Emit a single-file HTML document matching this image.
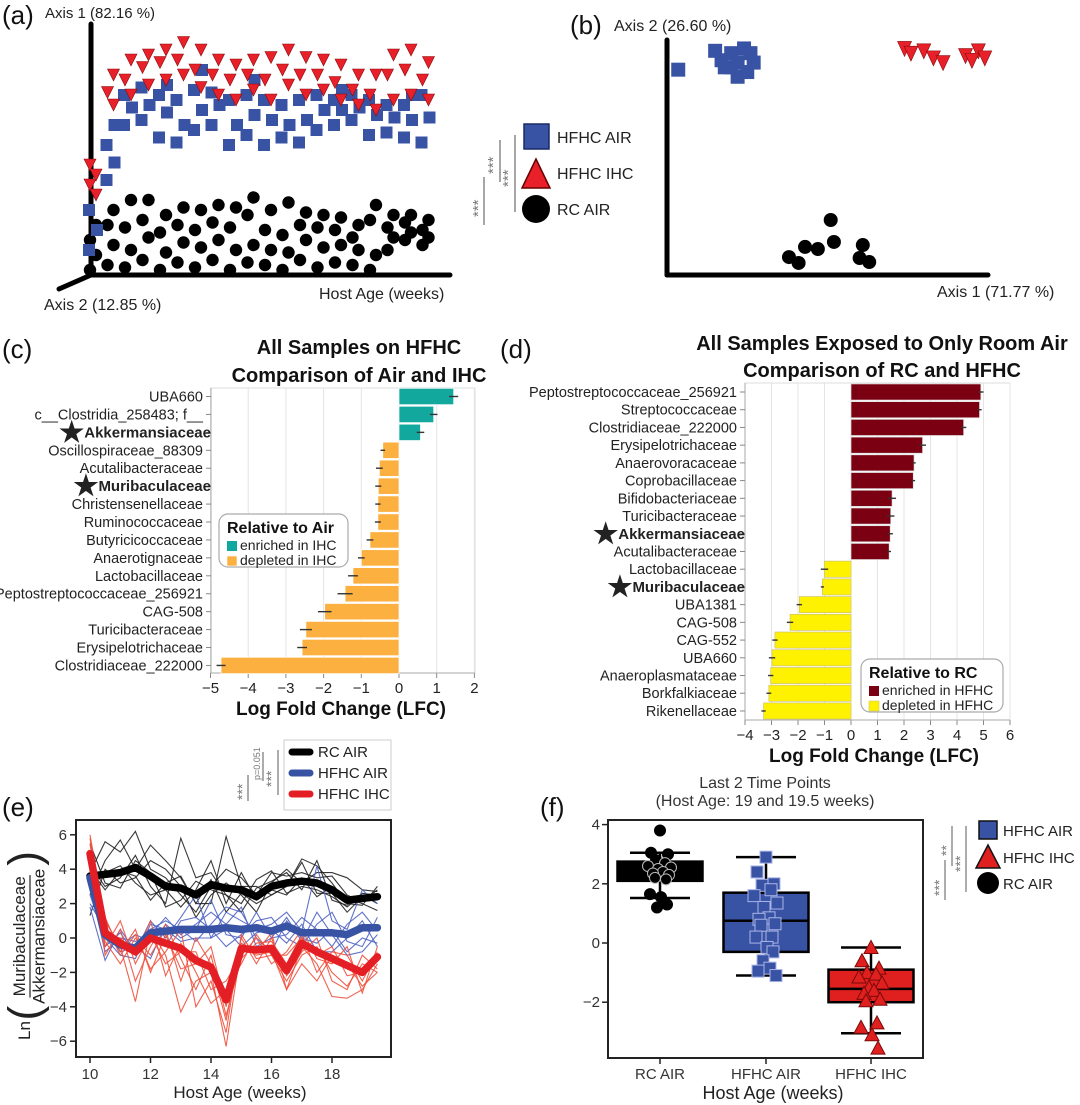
<!DOCTYPE html>
<html><head><meta charset="utf-8"><style>
html,body{margin:0;padding:0;background:#fff;}
svg{display:block;font-family:"Liberation Sans",Arial,sans-serif;}
</style></head><body>
<svg id="fig" xmlns="http://www.w3.org/2000/svg" width="1080" height="1105" viewBox="0 0 1080 1105">
<rect x="0" y="0" width="1080" height="1105" fill="#fff"/>
<g font-size="26" fill="#111">
<text x="2" y="24">(a)</text>
<text x="570" y="34">(b)</text>
<text x="2" y="358">(c)</text>
<text x="500" y="358">(d)</text>
<text x="2" y="816">(e)</text>
<text x="540" y="816">(f)</text>
</g>
<g stroke="#000" stroke-width="5" stroke-linecap="round">
<line x1="91" y1="24" x2="91" y2="275"/>
<line x1="91" y1="275" x2="450" y2="275"/>
<line x1="91" y1="275" x2="59" y2="289"/>
</g>
<text x="45" y="18" font-size="15" fill="#222">Axis 1 (82.16 %)</text>
<text x="319" y="299" font-size="16" fill="#222">Host Age (weeks)</text>
<text x="44" y="310" font-size="16" fill="#222">Axis 2 (12.85 %)</text>
<g id="pa"></g>
<g>
<rect x="524" y="124" width="25" height="25" fill="#3953a4" stroke="#1a2a66" stroke-width="1.5"/>
<polygon points="536,159 522,188 550,188" fill="#e8202a" stroke="#600" stroke-width="1.5"/>
<circle cx="536" cy="209" r="14" fill="#000"/>
<text x="557" y="143" font-size="16" fill="#222">HFHC AIR</text>
<text x="557" y="179" font-size="16" fill="#222">HFHC IHC</text>
<text x="557" y="215" font-size="16" fill="#222">RC AIR</text>
<g stroke="#888" stroke-width="1.5">
<line x1="484" y1="177" x2="484" y2="225"/><line x1="500" y1="140" x2="500" y2="182"/><line x1="515" y1="135" x2="515" y2="212"/>
</g>
<g font-size="15" fill="#777">
<text transform="translate(483,217) rotate(-90)">***</text>
<text transform="translate(498,174) rotate(-90)">***</text>
<text transform="translate(513,187) rotate(-90)">***</text>
</g>
</g>
<g stroke="#000" stroke-width="5" stroke-linecap="round">
<line x1="667" y1="40" x2="667" y2="275"/>
<line x1="667" y1="275" x2="988" y2="275"/>
</g>
<text x="614" y="31" font-size="16" fill="#222">Axis 2 (26.60 %)</text>
<text x="937" y="297" font-size="16" fill="#222">Axis 1 (71.77 %)</text>
<g id="pb"></g>
<g font-weight="bold" font-size="20" fill="#111" text-anchor="middle">
<text x="359" y="354">All Samples on HFHC</text>
<text x="359" y="382">Comparison of Air and IHC</text>
<text x="882" y="350">All Samples Exposed to Only Room Air</text>
<text x="882" y="377">Comparison of RC and HFHC</text>
</g>
<g id="pc"></g>
<g id="pd"></g>
<g id="pe"></g>
<g id="pf"></g>
</svg>
<script>
const agesA = [10,10.5,11,11.5,12,12.5,13,13.5,14,14.5,15,15.5,16,16.5,17,17.5,18,18.5,19,19.5];
const blackA = [[0.02,0.08,0.14,0.2],[0.04,0.12,0.2,0.26],[0.03,0.1,0.19,0.3],[0.06,0.15,0.22,0.3],[0.02,0.09,0.17,0.24],[0.05,0.13,0.2,0.27],[0.03,0.11,0.18,0.26],[0.06,0.14,0.21,0.28],[0.02,0.1,0.19,0.27],[0.05,0.12,0.24,0.31],[0.04,0.1,0.18,0.26],[0.02,0.09,0.16,0.29],[0.06,0.14,0.2,0.25],[0.03,0.11,0.19,0.24],[0.05,0.12,0.18,0.23],[0.04,0.1,0.15,0.2],[0.02,0.08,0.22,0.28],[0.1,0.15,0.19,0.24],[0.14,0.17,0.21,0.24],[0.12,0.15,0.18,0.22]];
const blueA = [[0.1,0.18,0.26],[0.38,0.45,0.52,0.6],[0.6,0.67,0.72],[0.62,0.68,0.75],[0.55,0.65,0.72,0.76],[0.53,0.6,0.7],[0.58,0.66,0.74,0.82],[0.6,0.68,0.73],[0.52,0.6,0.7],[0.56,0.64,0.72,0.78],[0.52,0.62,0.7],[0.55,0.6,0.68],[0.53,0.62,0.7],[0.58,0.66,0.72],[0.6,0.66,0.7,0.74],[0.62,0.67,0.72],[0.56,0.64,0.7],[0.57,0.63,0.68],[0.55,0.62,0.68,0.72],[0.53,0.63,0.72]];
const redA = [[0.32,0.36,0.4,0.44],[0.68,0.73,0.8],[0.72,0.78,0.86],[0.76,0.83,0.88],[0.78,0.85,0.9],[0.8,0.86,0.93],[0.75,0.82,0.9],[0.72,0.8,0.86],[0.7,0.78,0.84],[0.74,0.8,0.86],[0.7,0.78,0.87],[0.76,0.82,0.9],[0.72,0.8,0.87],[0.74,0.8,0.86],[0.7,0.77,0.84],[0.68,0.74,0.8],[0.66,0.72,0.8],[0.7,0.8,0.88],[0.72,0.82,0.9],[0.7,0.78,0.85]];

const blueB1 = [0.035,0.15,0.17,0.2,0.22,0.24,0.26,0.27,0.18,0.2,0.25,0.22];
const blueB2 = [0.87,0.95,0.91,0.94,0.9,0.96,0.94,0.9,0.88,0.88,0.86,0.84];
const redB1 = [0.74,0.76,0.8,0.83,0.86,0.93,0.97,0.99,0.95];
const redB2 = [0.96,0.94,0.95,0.92,0.9,0.93,0.95,0.92,0.91];
const blackB1 = [0.38,0.41,0.43,0.47,0.51,0.52,0.61,0.6,0.63];
const blackB2 = [0.076,0.051,0.119,0.11,0.233,0.14,0.127,0.072,0.055];

const cCats = ["UBA660","c__Clostridia_258483; f__","Akkermansiaceae","Oscillospiraceae_88309","Acutalibacteraceae","Muribaculaceae","Christensenellaceae","Ruminococcaceae","Butyricicoccaceae","Anaerotignaceae","Lactobacillaceae","Peptostreptococcaceae_256921","CAG-508","Turicibacteraceae","Erysipelotrichaceae","Clostridiaceae_222000"];
const cVals = [1.45,0.92,0.57,-0.43,-0.52,-0.55,-0.56,-0.56,-0.77,-1.0,-1.22,-1.43,-1.97,-2.47,-2.57,-4.72];
const cErr = [0.12,0.1,0.1,0.06,0.09,0.08,0.07,0.08,0.09,0.09,0.13,0.2,0.18,0.16,0.13,0.12];
const cTicks = [-5,-4,-3,-2,-1,0,1,2];

const dCats = ["Peptostreptococcaceae_256921","Streptococcaceae","Clostridiaceae_222000","Erysipelotrichaceae","Anaerovoracaceae","Coprobacillaceae","Bifidobacteriaceae","Turicibacteraceae","Akkermansiaceae","Acutalibacteraceae","Lactobacillaceae","Muribaculaceae","UBA1381","CAG-508","CAG-552","UBA660","Anaeroplasmataceae","Borkfalkiaceae","Rikenellaceae"];
const dVals = [4.9,4.85,4.25,2.7,2.38,2.35,1.55,1.5,1.48,1.44,-1.0,-1.08,-1.95,-2.3,-2.87,-2.98,-3.03,-3.1,-3.3];
const dErr = [0.1,0.08,0.1,0.13,0.06,0.07,0.15,0.14,0.1,0.07,0.14,0.06,0.1,0.12,0.1,0.12,0.1,0.09,0.08];
const dTicks = [-4,-3,-2,-1,0,1,2,3,4,5,6];
const starred = ["Akkermansiaceae","Muribaculaceae"];

const agesE = [10,10.5,11,11.5,12,12.5,13,13.5,14,14.5,15,15.5,16,16.5,17,17.5,18,18.5,19,19.5];
const rcMean = [3.6,3.7,3.8,4.1,3.6,3.0,2.9,2.5,3.1,2.9,2.8,2.4,3.0,3.2,3.3,3.2,2.8,2.2,2.3,2.4];
const hfAirMean = [3.5,0.2,-0.4,-0.6,0.3,0.4,0.5,0.5,0.5,0.6,0.5,0.6,0.4,0.7,0.3,0.3,0.3,0.2,0.6,0.6];
const hfIhcMean = [4.9,0.3,-0.3,-0.8,0.0,-0.3,-0.6,-1.3,-1.7,-3.6,-0.6,-0.7,-0.6,-1.9,-0.3,-0.8,-1.2,-1.6,-2.0,-1.1];
const rcMice = [
[3.8,5.6,5.0,6.2,4.0,3.5,2.5,1.5,3.0,4.0,3.5,2.5,3.8,3.6,3.8,3.5,3.6,2.5,2.1,2.8],
[2.5,4.5,5.7,4.0,5.4,4.5,3.5,2.0,2.0,5.9,3.0,3.0,2.5,3.0,4.6,4.2,3.2,2.0,1.9,3.0],
[4.2,3.0,3.5,4.8,3.0,2.0,5.8,3.5,3.8,2.5,2.0,3.4,3.9,2.6,3.0,2.8,2.4,1.8,2.5,2.0],
[1.3,4.0,3.2,3.5,4.5,4.0,3.0,1.2,2.5,3.2,2.5,1.5,3.2,4.0,3.2,3.8,3.8,3.5,2.8,2.7],
[3.0,3.8,4.2,3.2,2.5,2.8,1.8,2.8,4.5,2.0,3.8,2.2,2.8,2.5,3.5,2.4,3.0,2.3,2.0,1.6],
[5.5,3.2,2.9,4.5,3.8,1.8,2.2,3.3,2.8,2.5,1.5,2.9,3.3,3.8,2.8,4.5,2.2,1.9,2.6,2.5],
[4.0,2.8,3.9,3.6,2.2,3.2,3.6,2.0,3.4,1.5,2.6,2.0,2.5,3.0,4.4,2.6,2.6,1.5,2.4,2.2]];
const hfAirMice = [
[1.8,-1.3,0.5,-0.8,1.0,0.0,1.2,2.5,0.0,1.5,1.0,0.5,0.8,1.5,0.4,4.2,1.0,0.5,2.8,2.0],
[2.0,0.5,-0.8,-0.5,-1.2,0.8,0.0,0.5,2.2,0.2,0.0,1.5,0.0,0.2,1.2,0.5,-0.5,0.8,1.5,0.4],
[4.0,-0.5,0.3,-1.0,0.5,1.0,0.5,-0.2,0.8,1.8,1.5,0.0,-0.8,1.0,0.0,-0.3,0.5,-0.8,0.0,-0.3],
[3.5,1.0,-0.5,0.2,-0.2,-0.5,1.0,1.2,0.5,-0.5,0.2,1.0,1.2,0.0,-0.5,0.8,1.5,-0.2,-0.5,1.2],
[2.5,0.0,-1.0,-1.2,0.8,0.5,-0.2,0.0,0.0,0.5,-0.5,0.3,0.5,-0.3,0.8,-0.8,-0.8,0.0,1.0,-0.5],
[3.0,-0.8,0.0,-0.2,0.2,1.2,0.2,0.8,1.5,0.8,1.8,-0.5,0.0,1.2,-0.2,1.5,0.2,-1.0,-0.8,0.2]];
const hfIhcMice = [
[6.0,1.0,-0.5,-3.7,0.5,-1.0,-4.3,-2.5,-2.0,-6.3,-0.5,-1.0,-0.8,-3.0,-0.5,-1.5,-3.4,-3.5,-3.0,-1.5],
[5.5,-1.0,0.5,-2.5,-0.5,0.8,-1.2,-3.0,-1.0,-4.5,-1.2,-0.3,-0.2,-1.5,0.2,-2.0,-0.8,-1.0,-2.5,-0.8],
[4.2,0.8,-1.0,0.2,-1.8,-0.8,0.5,-4.0,-2.5,-5.5,0.2,-1.2,-1.0,-2.5,-1.0,-0.5,-2.0,-2.8,-1.5,-2.0],
[5.0,-0.5,1.0,-1.5,0.2,-1.5,-0.8,-0.8,-3.0,-2.5,-1.0,0.0,-1.5,-0.8,0.5,-1.2,-1.5,-0.5,-3.2,-0.5],
[3.8,1.2,-0.8,0.5,-2.0,0.2,-1.8,-1.5,-0.5,-4.0,0.0,-1.5,0.0,-2.2,-0.8,0.0,-2.5,-3.0,-1.0,-1.8],
[4.5,0.2,0.0,-1.0,1.0,-2.2,-0.3,-2.0,-3.8,-3.0,-1.5,0.2,-1.0,-1.0,0.0,-1.0,-0.5,-2.2,-2.0,-1.2],
[5.8,-0.2,-1.5,0.0,-1.0,0.5,-2.5,0.0,-1.5,-4.8,-0.3,-0.8,0.3,-3.0,-1.5,-2.5,-1.0,-1.5,-2.8,-2.0]];
const eYTicks = [-6,-4,-2,0,2,4,6];
const eXTicks = [10,12,14,16,18];

const fCats = ["RC AIR","HFHC AIR","HFHC IHC"];
const fQ1 = [2.1,-0.3,-2.0];
const fMed = [2.4,0.75,-1.55];
const fQ3 = [2.75,1.7,-0.9];
const fWlo = [1.52,-1.1,-3.05];
const fWhi = [3.05,2.9,-0.15];
const rcPts = [3.8,3.05,3.0,2.8,2.7,2.6,2.55,2.5,2.4,2.35,2.3,2.2,2.15,1.65,1.55,1.3,1.2];
const hfaPts = [2.9,2.4,2.0,1.95,1.8,1.6,1.35,1.2,0.85,0.8,0.65,0.6,0.2,0.2,-0.15,-0.3,-0.6,-0.85,-0.95,-1.1];
const hfiPts = [-0.15,-0.6,-0.85,-1.0,-1.05,-1.15,-1.35,-1.5,-1.6,-1.7,-1.9,-1.95,-2.7,-2.85,-3.1,-3.55];
const fYTicks = [-2,0,2,4];

const NS = 'http://www.w3.org/2000/svg';
function mk(tag, attrs, parent){ const e=document.createElementNS(NS,tag); for(const k in attrs) e.setAttribute(k,attrs[k]); parent.appendChild(e); return e; }
const jit = [0,-9,8,-4,5,-12,11,-2,3,-7,9,-5,6,-10,1,7,-3,4,-8,10];

const pa = document.getElementById('pa');
const xA = a => 93 + (a-10)*35;
const yA = v => 275 - v*250;
agesA.forEach((a,i)=>{
  blackA[i].forEach((v,j)=>{
    const c = mk('circle',{cx:xA(a)+(j%2?3:-3),cy:yA(v),r:6.2,fill:'#000'},pa);
    
    
  });
});
agesA.forEach((a,i)=>{
  blueA[i].forEach((v,j)=>{
    const x=xA(a)+(j%2?4:-4), y=yA(v);
    const r = mk('rect',{x:x-6,y:y-6,width:12,height:12,fill:'#3953a4'},pa);
    
    
  });
});
agesA.forEach((a,i)=>{
  redA[i].forEach((v,j)=>{
    const x=xA(a)+(j%2?-3:3), y=yA(v);
    const t = mk('polygon',{points:`${x-6},${y-6} ${x+6},${y-6} ${x},${y+6}`,fill:'#e8202a',stroke:'#8a0a0a','stroke-width':0.6},pa);
    
    
  });
});

const pb = document.getElementById('pb');
const xB = v => 667 + v*321;
const yB = v => 275 - v*236;
blueB1.forEach((v,i)=>{
  const x=xB(v), y=yB(blueB2[i]);
  const r = mk('rect',{x:x-7,y:y-7,width:14,height:14,fill:'#3953a4'},pb);
  
  
});
redB1.forEach((v,i)=>{
  const x=xB(v), y=yB(redB2[i]);
  const t = mk('polygon',{points:`${x-7},${y-7} ${x+7},${y-7} ${x},${y+8}`,fill:'#e8202a',stroke:'#8a0a0a','stroke-width':0.6},pb);
  
  
});
blackB1.forEach((v,i)=>{
  const c = mk('circle',{cx:xB(v),cy:yB(blackB2[i]),r:7,fill:'#000'},pb);
  
  
});

function barChart(g, cats, vals, errs, ticks, cfg){
  const x = v => cfg.zero + v*cfg.unit;
  const row = i => cfg.row0 + i*cfg.step;
  mk('rect',{x:cfg.left,y:cfg.top,width:cfg.right-cfg.left,height:cfg.bottom-cfg.top,fill:'#fff',stroke:'#ddd','stroke-width':1},g);
  ticks.forEach(t=>{
    const gl = mk('line',{x1:x(t),x2:x(t),y1:cfg.top,y2:cfg.bottom,stroke:'#e4e4e4','stroke-width':1},g);
    
    
    mk('line',{x1:x(t),x2:x(t),y1:cfg.bottom,y2:cfg.bottom+5,stroke:'#888'},g);
    const tl = mk('text',{x:x(t),y:cfg.bottom+20,'text-anchor':'middle','font-size':15,fill:'#222'},g);
    tl.textContent = t<0 ? '\u2212'+Math.abs(t) : String(t);
    
    
  });
  mk('line',{x1:cfg.left,x2:cfg.right,y1:cfg.bottom,y2:cfg.bottom,stroke:'#aaa'},g);
  mk('line',{x1:cfg.left,x2:cfg.left,y1:cfg.top,y2:cfg.bottom,stroke:'#aaa'},g);
  cats.forEach((c,i)=>{
    const v=vals[i], y=row(i);
    const b = mk('rect',{x:Math.min(x(0),x(v)),y:y-cfg.step/2+0.8,width:Math.abs(x(v)-x(0)),height:cfg.step-1.6,fill:v>=0?cfg.pos:cfg.neg,stroke:v>=0?cfg.posS:cfg.negS,'stroke-width':0.7},g);
    
    
    const e = mk('line',{x1:x(v-errs[i]),x2:x(v+errs[i]),y1:y,y2:y,stroke:'#333','stroke-width':1.4},g);
    
    
    mk('line',{x1:cfg.left-5,x2:cfg.left,y1:y,y2:y,stroke:'#888'},g);
    const bold = starred.includes(c);
    const t = mk('text',{x:bold?cfg.left:cfg.left-8,y:y+5,'text-anchor':'end','font-size':bold?15:14.5,fill:'#222','font-weight':bold?'bold':'normal'},g);
    if(bold){
      const s = mk('tspan',{'font-size':28,dy:4},t); s.textContent='\u2605';
      const n = mk('tspan',{dy:-4},t); n.textContent=c;
    } else t.textContent=c;
    
    
  });
  const xl = mk('text',{x:cfg.xlabX,y:cfg.bottom+42,'text-anchor':'middle','font-size':19,'font-weight':'bold',fill:'#111'},g);
  xl.textContent='Log Fold Change (LFC)';
  
  
  const L=cfg.leg;
  const lg = mk('g',{},g);
  
  
  mk('rect',{x:L.x,y:L.y,width:L.w,height:53,rx:9,fill:'#fff',stroke:'#aaa','stroke-width':1.2},lg);
  const lt = mk('text',{x:L.x+8,y:L.y+19,'font-size':16,'font-weight':'bold',fill:'#111'},lg); lt.textContent=L.title;
  mk('rect',{x:L.x+8,y:L.y+27,width:10,height:10,fill:cfg.pos},lg);
  mk('rect',{x:L.x+8,y:L.y+42,width:10,height:10,fill:cfg.neg,stroke:cfg.negS,'stroke-width':0.6},lg);
  const a1 = mk('text',{x:L.x+21,y:L.y+36,'font-size':14,fill:'#222'},lg); a1.textContent=L.e1;
  const a2 = mk('text',{x:L.x+21,y:L.y+51,'font-size':14,fill:'#222'},lg); a2.textContent=L.e2;
}
barChart(document.getElementById('pc'), cCats, cVals, cErr, cTicks,
  {zero:399,unit:37.7,row0:396.5,step:17.93,left:211,right:475,top:388,bottom:673,pos:'#13a89e',posS:'#fff',neg:'#fbb040',negS:'#fff',xlabX:341,
   leg:{x:219,y:514,w:129,title:'Relative to Air',e1:'enriched in IHC',e2:'depleted in IHC'}});
barChart(document.getElementById('pd'), dCats, dVals, dErr, dTicks,
  {zero:851,unit:26.5,row0:392,step:17.72,left:745,right:1010,top:383,bottom:720,pos:'#7b0011',posS:'#ddd',neg:'#fff200',negS:'#cfc36a',xlabX:874,
   leg:{x:861,y:659,w:142,title:'Relative to RC',e1:'enriched in HFHC',e2:'depleted in HFHC'}});

const pe = document.getElementById('pe');
const xE = a => 90 + (a-10)*30.25;
const yE = v => 938 - v*17.2;
mk('rect',{x:76,y:820,width:315,height:237,fill:'#fff',stroke:'#222','stroke-width':2},pe);
eYTicks.forEach(t=>{
  mk('line',{x1:70,x2:76,y1:yE(t),y2:yE(t),stroke:'#222','stroke-width':1.5},pe);
  const l = mk('text',{x:67,y:yE(t)+5,'text-anchor':'end','font-size':15,fill:'#333'},pe);
  l.textContent = t<0?'\u2212'+Math.abs(t):String(t);
  
  
});
eXTicks.forEach(t=>{
  mk('line',{x1:xE(t),x2:xE(t),y1:1057,y2:1063,stroke:'#222','stroke-width':1.5},pe);
  const l = mk('text',{x:xE(t),y:1079,'text-anchor':'middle','font-size':15,fill:'#333'},pe);
  l.textContent=String(t);
  
  
});
const pathOf = arr => arr.map((v,i)=>(i?'L':'M')+xE(agesE[i]).toFixed(1)+','+yE(v).toFixed(1)).join(' ');
function thin(list,color,name){ list.forEach(s=>{ const p=mk('path',{d:pathOf(s),fill:'none',stroke:color,'stroke-width':1.1,'stroke-opacity':0.9},pe);   }); }
thin(rcMice,'#222','rc-air-mouse-line');
thin(hfAirMice,'#4f63c4','hfhc-air-mouse-line');
thin(hfIhcMice,'#f0503c','hfhc-ihc-mouse-line');
function thick(arr,color,name){ const p=mk('path',{d:pathOf(arr),fill:'none',stroke:color,'stroke-width':7.5,'stroke-linejoin':'round','stroke-linecap':'round'},pe);   }
thick(rcMean,'#000','rc-air-mean-line');
thick(hfAirMean,'#3953a4','hfhc-air-mean-line');
thick(hfIhcMean,'#e31e24','hfhc-ihc-mean-line');
const el = mk('g',{},pe);


mk('rect',{x:284,y:740,width:107,height:70,fill:'#fff',stroke:'#ccc','stroke-width':1},el);
[['RC AIR','#000',752],['HFHC AIR','#3953a4',773],['HFHC IHC','#e31e24',794]].forEach(r=>{
  mk('line',{x1:292,x2:310,y1:r[2],y2:r[2],stroke:r[1],'stroke-width':7,'stroke-linecap':'round'},el);
  const t=mk('text',{x:318,y:r[2]+5,'font-size':15,fill:'#222'},el); t.textContent=r[0];
});
mk('line',{x1:248,x2:248,y1:775,y2:801,stroke:'#888','stroke-width':1.4},pe);
mk('line',{x1:263,x2:263,y1:752,y2:781,stroke:'#888','stroke-width':1.4},pe);
mk('line',{x1:278,x2:278,y1:750,y2:795,stroke:'#888','stroke-width':1.4},pe);
const s1=mk('text',{transform:'translate(247,800) rotate(-90)','font-size':14,fill:'#777'},pe); s1.textContent='***';
const s2=mk('text',{transform:'translate(260,780) rotate(-90)','font-size':9,fill:'#777'},pe); s2.textContent='p=0.051';
const s3=mk('text',{transform:'translate(276,787) rotate(-90)','font-size':14,fill:'#777'},pe); s3.textContent='***';
const exl=mk('text',{x:240,y:1098,'text-anchor':'middle','font-size':17,fill:'#222'},pe); exl.textContent='Host Age (weeks)';


function ratioLabel(parent, ox, oy, fs, base){
  const g=mk('g',{transform:`translate(${ox},${oy}) rotate(-90)`,fill:'#222'},parent);
  
  
  const ln=mk('text',{x:0,y:base,'font-size':fs},g); ln.textContent='Ln';
  const p1=mk('text',{x:fs*1.15,y:base+fs*0.55,'font-size':fs*2.6},g); p1.textContent='(';
  const cx = fs*1.15+fs*0.9+fs*4.05;
  const t1=mk('text',{x:cx,y:base-fs*0.3,'font-size':fs,'text-anchor':'middle'},g); t1.textContent='Muribaculaceae';
  mk('line',{x1:cx-fs*3.6,x2:cx+fs*3.6,y1:base,y2:base,stroke:'#222','stroke-width':1.2},g);
  const t2=mk('text',{x:cx,y:base+fs*0.85,'font-size':fs,'text-anchor':'middle'},g); t2.textContent='Akkermansiaceae';
  const p2=mk('text',{x:cx+fs*4.15,y:base+fs*0.55,'font-size':fs*2.6},g); p2.textContent=')';
}
ratioLabel(pe, 0, 1040, 17, 30);

const pf = document.getElementById('pf');
const yF = v => 943 - v*29.6;
const xF = [660,766,871];
const fFill = ['#000','#3953a4','#e0201f'];
mk('rect',{x:608,y:820,width:315,height:238,fill:'#fff',stroke:'#222','stroke-width':2},pf);
fYTicks.forEach(t=>{
  mk('line',{x1:602,x2:608,y1:yF(t),y2:yF(t),stroke:'#222','stroke-width':1.5},pf);
  const l=mk('text',{x:600,y:yF(t)+5,'text-anchor':'end','font-size':15,fill:'#333'},pf);
  l.textContent=t<0?'\u2212'+Math.abs(t):String(t);
  
  
});
fCats.forEach((c,i)=>{
  const x=xF[i];
  mk('line',{x1:x,x2:x,y1:1058,y2:1064,stroke:'#222','stroke-width':1.5},pf);
  const l=mk('text',{x:x,y:1079,'text-anchor':'middle','font-size':15,fill:'#333'},pf); l.textContent=c;
  
  
  const g=mk('g',{},pf);
  
  
  mk('line',{x1:x,x2:x,y1:yF(fWhi[i]),y2:yF(fWlo[i]),stroke:'#000','stroke-width':2.5},g);
  mk('line',{x1:x-30,x2:x+30,y1:yF(fWhi[i]),y2:yF(fWhi[i]),stroke:'#000','stroke-width':2.5},g);
  mk('line',{x1:x-30,x2:x+30,y1:yF(fWlo[i]),y2:yF(fWlo[i]),stroke:'#000','stroke-width':2.5},g);
  mk('rect',{x:x-42.5,y:yF(fQ3[i]),width:85,height:yF(fQ1[i])-yF(fQ3[i]),fill:fFill[i],stroke:'#000','stroke-width':2.5},g);
  mk('line',{x1:x-42.5,x2:x+42.5,y1:yF(fMed[i]),y2:yF(fMed[i]),stroke:'#000','stroke-width':2.5},g);
});
rcPts.forEach((v,i)=>{
  const inside = v>fQ1[0] && v<fQ3[0];
  const c=mk('circle',{cx:xF[0]+jit[i],cy:yF(v),r:5.5,fill:'#000',stroke:inside?'#bbb':'#000','stroke-width':1},pf);
  
  
});
hfaPts.forEach((v,i)=>{
  const x=xF[1]+jit[i], y=yF(v);
  const r=mk('rect',{x:x-6,y:y-6,width:12,height:12,fill:'#3953a4',stroke:'#aab4e8','stroke-width':1},pf);
  
  
});
hfiPts.forEach((v,i)=>{
  const x=xF[2]+jit[i], y=yF(v);
  const t=mk('polygon',{points:`${x},${y-7} ${x-7},${y+6} ${x+7},${y+6}`,fill:'#e0201f',stroke:'#7a0a0a','stroke-width':1},pf);
  
  
});
const ft1=mk('text',{x:765,y:788,'text-anchor':'middle','font-size':16,fill:'#333'},pf); ft1.textContent='Last 2 Time Points';


const ft2=mk('text',{x:765,y:806,'text-anchor':'middle','font-size':16,fill:'#333'},pf); ft2.textContent='(Host Age: 19 and 19.5 weeks)';


const fxl=mk('text',{x:773,y:1099,'text-anchor':'middle','font-size':18,fill:'#222'},pf); fxl.textContent='Host Age (weeks)';


ratioLabel(pf, 540, 1037, 15, 566);
const fl=mk('g',{},pf);


mk('rect',{x:979,y:821,width:18,height:18,fill:'#3953a4',stroke:'#111','stroke-width':1.5},fl);
mk('polygon',{points:'988,845 976,868 1000,868',fill:'#e0201f',stroke:'#111','stroke-width':1.5},fl);
mk('circle',{cx:988,cy:883,r:11,fill:'#000'},fl);
[['HFHC AIR',836],['HFHC IHC',863],['RC AIR',889]].forEach(r=>{ const t=mk('text',{x:1003,y:r[1],'font-size':15,fill:'#222'},fl); t.textContent=r[0]; });
mk('line',{x1:945,x2:945,y1:860,y2:900,stroke:'#888','stroke-width':1.4},pf);
mk('line',{x1:952,x2:952,y1:826,y2:866,stroke:'#888','stroke-width':1.4},pf);
mk('line',{x1:966,x2:966,y1:826,y2:892,stroke:'#888','stroke-width':1.4},pf);
const fs1=mk('text',{transform:'translate(944,896) rotate(-90)','font-size':14,fill:'#777'},pf); fs1.textContent='***';
const fs2=mk('text',{transform:'translate(951,856) rotate(-90)','font-size':14,fill:'#777'},pf); fs2.textContent='**';
const fs3=mk('text',{transform:'translate(965,872) rotate(-90)','font-size':14,fill:'#777'},pf); fs3.textContent='***';
</script>
</body></html>
